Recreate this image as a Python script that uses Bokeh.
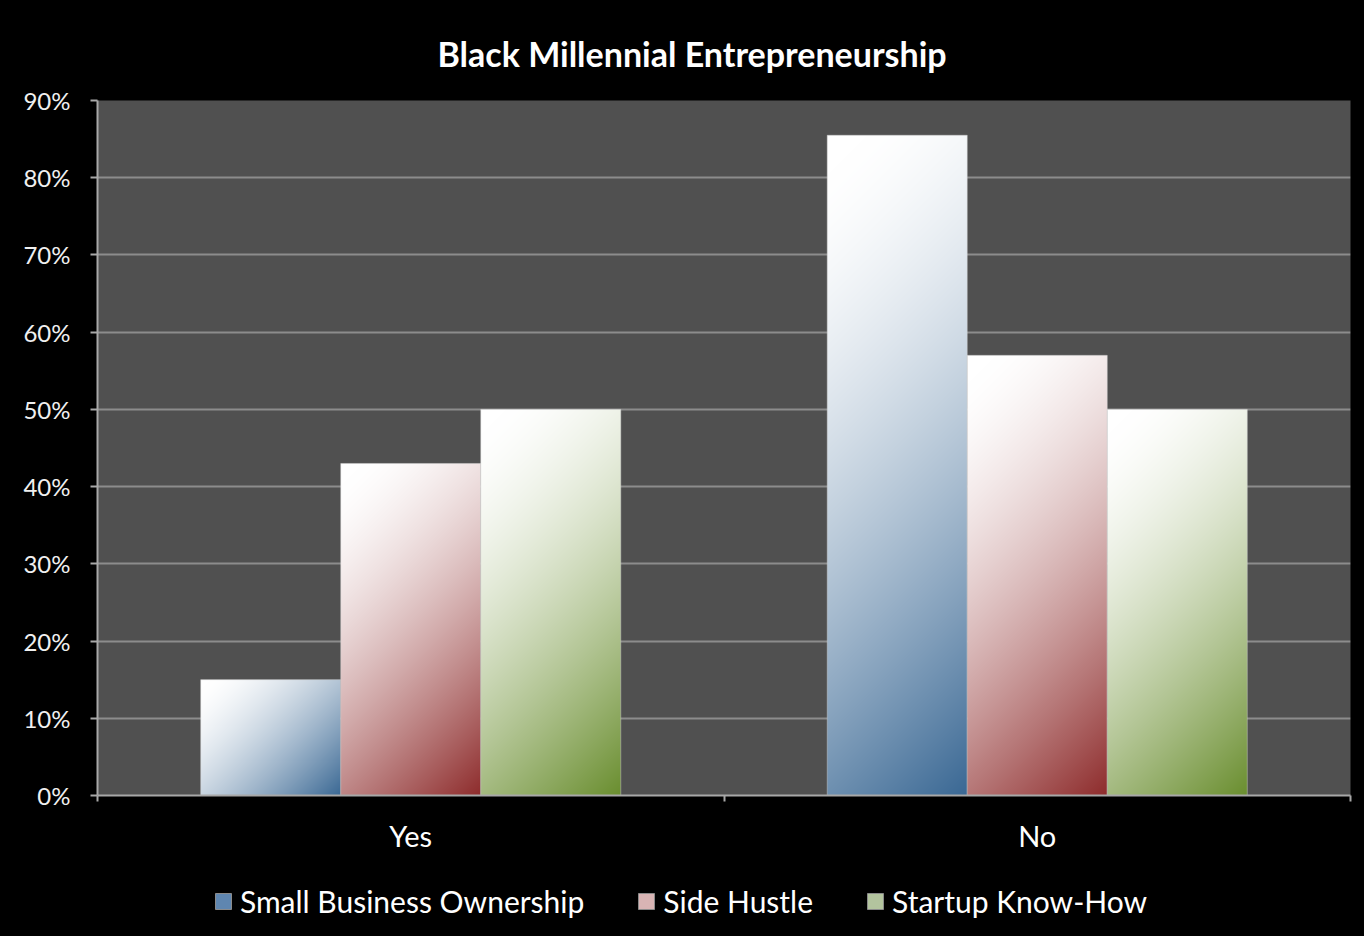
import numpy as np
from bokeh.plotting import figure
from bokeh.layouts import column
from bokeh.models import (Range1d, FixedTicker, LinearAxis, Legend,
                          LegendItem, NumeralTickFormatter)
from bokeh.embed import file_html
from bokeh.resources import INLINE

# ---------------- data ----------------
categories = ["Yes", "No"]
series_names = ["Small Business Ownership", "Side Hustle", "Startup Know-How"]
small_business = [15, 85.5]
side_hustle = [43, 57]
startup_knowhow = [50, 50]
y_ticks = [0, 10, 20, 30, 40, 50, 60, 70, 80, 90]

series_values = [small_business, side_hustle, startup_knowhow]
dark_colors = [(58, 104, 148), (142, 44, 44), (106, 142, 47)]
legend_colors = ["#5f86b0", "#d8b4b4", "#b3c49e"]

W, H = 1364, 936
LEG_H = 70
MAIN_H = H - LEG_H
FRAME_L, FRAME_R, FRAME_T, FRAME_B = 97, 1350, 100, 795
n_cat = len(categories)
px_per_x = (FRAME_R - FRAME_L) / float(n_cat)
px_per_y = (FRAME_B - FRAME_T) / 90.0

p = figure(width=W, height=MAIN_H, x_range=Range1d(0, n_cat), y_range=Range1d(0, 90),
           output_backend="svg", toolbar_location=None,
           min_border_left=FRAME_L, min_border_right=W - FRAME_R,
           min_border_top=FRAME_T, min_border_bottom=MAIN_H - FRAME_B,
           background_fill_color="#505050", border_fill_color="black",
           outline_line_color=None)

FONT = "Lato"
p.title.text = "Black Millennial Entrepreneurship"
p.title.align = "left"
p.title.offset = 340
p.title.text_color = "white"
p.title.text_font = FONT
p.title.text_font_size = "34px"
p.title.text_font_style = "bold"
p.title.standoff = 53

# grid
p.xgrid.grid_line_color = None
p.ygrid.ticker = FixedTicker(ticks=y_ticks)
p.ygrid.grid_line_color = "#8c8c8c"
p.ygrid.grid_line_width = 2

# y axis
p.yaxis.ticker = FixedTicker(ticks=y_ticks)
p.yaxis.formatter = NumeralTickFormatter(format="0")
p.yaxis.major_label_overrides = {t: f"{t}%" for t in y_ticks}
p.yaxis.axis_line_color = "#a8a8a8"
p.yaxis.axis_line_width = 2
p.yaxis.major_tick_line_color = "#a8a8a8"
p.yaxis.major_tick_line_width = 2
p.yaxis.major_tick_out = 7
p.yaxis.major_tick_in = 0
p.yaxis.minor_tick_line_color = None
p.yaxis.major_label_text_color = "#f0f0f0"
p.yaxis.major_label_text_font = FONT
p.yaxis.major_label_text_font_size = "24px"
p.yaxis.major_label_standoff = 20

# x axis (boundary ticks only)
bounds = list(range(n_cat + 1))
p.xaxis.ticker = FixedTicker(ticks=bounds)
p.xaxis.major_label_overrides = {b: "" for b in bounds}
p.xaxis.major_label_text_font_size = "1px"
p.xaxis.major_label_standoff = 0
p.xaxis.axis_line_color = "#a8a8a8"
p.xaxis.axis_line_width = 2
p.xaxis.major_tick_line_color = "#a8a8a8"
p.xaxis.major_tick_line_width = 2
p.xaxis.major_tick_out = 6
p.xaxis.major_tick_in = 0
p.xaxis.minor_tick_line_color = None

# category label axis
centers = [i + 0.5 for i in range(n_cat)]
cat_axis = LinearAxis(ticker=FixedTicker(ticks=centers),
                      major_label_overrides={c: name for c, name in zip(centers, categories)})
cat_axis.axis_line_color = None
cat_axis.major_tick_line_color = None
cat_axis.minor_tick_line_color = None
cat_axis.major_label_text_color = "white"
cat_axis.major_label_text_font = FONT
cat_axis.major_label_text_font_size = "29px"
cat_axis.major_label_standoff = 10
p.add_layout(cat_axis, "below")

# bars with diagonal gradient
bar_w = 0.2235
offsets = [-bar_w, 0.0, bar_w]
for si, vals in enumerate(series_values):
    dark = np.array(dark_colors[si], dtype=float)
    for ci, v in enumerate(vals):
        center = ci + 0.5 + offsets[si]
        left = center - bar_w / 2
        w_px = int(round(bar_w * px_per_x))
        h_px = max(2, int(round(v * px_per_y)))
        u = (np.arange(w_px) + 0.5) / w_px
        vv = (np.arange(h_px) + 0.5) / h_px  # 0 at bottom
        U, V = np.meshgrid(u, vv)
        vt = 1.0 - V  # 0 at top
        s = (U * w_px + vt * h_px) / (w_px + h_px)
        t = np.clip((s - 0.05) / 0.95, 0, 1) ** 1.5
        rgb = (1 - t[..., None]) * 255.0 + t[..., None] * dark
        img = np.empty((h_px, w_px), dtype=np.uint32)
        view = img.view(dtype=np.uint8).reshape((h_px, w_px, 4))
        view[..., 0] = rgb[..., 0].astype(np.uint8)
        view[..., 1] = rgb[..., 1].astype(np.uint8)
        view[..., 2] = rgb[..., 2].astype(np.uint8)
        view[..., 3] = 255
        p.image_rgba(image=[img], x=left, y=0, dw=bar_w, dh=v)
        p.quad(left=[left], right=[left + bar_w], bottom=[0], top=[v],
               fill_color=None, line_color="#cfcfcf", line_alpha=0.45, line_width=1)

# legend strip (separate figure below the chart)
p2 = figure(width=W, height=LEG_H, x_range=Range1d(0, 1), y_range=Range1d(0, 1),
            output_backend="svg", toolbar_location=None,
            min_border=0, background_fill_color="black", border_fill_color="black",
            outline_line_color=None)
p2.axis.visible = False
p2.grid.visible = False
items = []
for si, name in enumerate(series_names):
    r = p2.quad(left=[0], right=[0], top=[0], bottom=[0], fill_color=legend_colors[si],
                line_color="#8a8a8a", line_width=1)
    items.append(LegendItem(label=name, renderers=[r]))
legend = Legend(items=items, orientation="horizontal", location=(116, 17),
                background_fill_color="black", background_fill_alpha=0,
                border_line_color=None, label_text_color="white",
                label_text_font=FONT, label_text_font_size="30px",
                glyph_width=20, glyph_height=20, spacing=52, label_standoff=7,
                padding=0, margin=0, label_height=30)
p2.add_layout(legend, "center")

layout = column(p, p2, spacing=0, styles={"background-color": "black"})
html = file_html(layout, INLINE)
html = html.replace("<body>", '<body style="background-color:#000000; margin:0;">', 1)
open("out.html", "w").write(html)
